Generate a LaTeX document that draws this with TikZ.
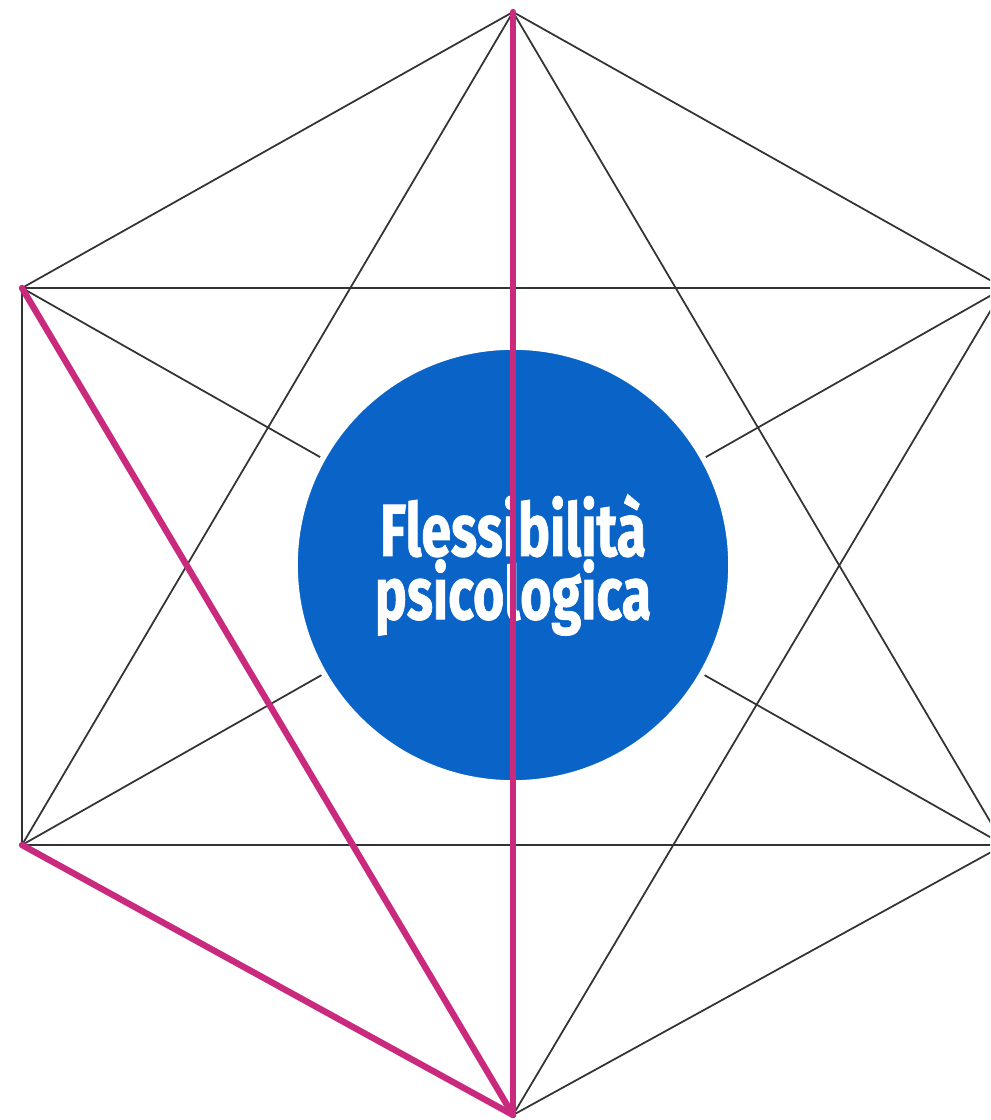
\documentclass[tikz,border=0pt]{standalone}
\usepackage{graphicx}
\usepackage{fontspec}
\setmainfont{Fira Sans}
\newfontfamily\hubfont[FakeBold=1.2]{Fira Sans Bold}
\usepackage{xcolor}
\definecolor{flexblue}{HTML}{0A63C6}
\definecolor{flexpink}{HTML}{C92A7E}

\begin{document}
\begin{tikzpicture}[
  edge/.style={black!80,line width=0.5pt},
  hexpath/.style={flexpink,line width=1.8pt,line cap=round},
  hub/.style={circle,fill=flexblue,draw=white,line width=1.6pt,minimum size=4.36cm,inner sep=0pt,
    text=white,font=\hubfont\fontsize{21}{18}\selectfont,align=center}]
  \useasboundingbox (0,0) rectangle (9.9,11.2);
  \clip (0,0) rectangle (9.9,11.2);
  % ---------- corners of the hexagon ----------
  \coordinate (t)  at (5.13,11.08);
  \coordinate (ul) at (0.22,8.32);
  \coordinate (ll) at (0.22,2.75);
  \coordinate (b)  at (5.13,0.05);
  \coordinate (lr) at (10.04,2.75);
  \coordinate (ur) at (10.04,8.32);
  % ---------- thin edges ----------
  \foreach \p/\q in {t/ul,t/ur,t/ll,t/lr,ul/ll,ul/ur,ul/lr,ll/lr,ll/ur,b/ur,b/lr,ur/lr}
    \draw[edge] (\p) -- (\q);
  % ---------- the centre ----------
  \node[hub] (flex) at (5.13,5.55) {\scalebox{0.73}[1]{Flessibilità}\\[0pt]\scalebox{0.73}[1]{psicologica}};
  % ---------- pink edges ----------
  \foreach \p in {t,ul,ll}
    \draw[hexpath] (\p) -- (b);
\end{tikzpicture}
\end{document}
